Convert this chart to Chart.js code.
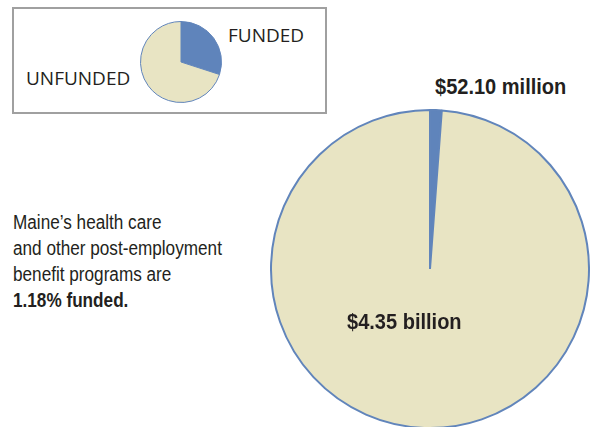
<!DOCTYPE html>
<html>
<head>
<meta charset="utf-8">
<script src="https://cdn.jsdelivr.net/npm/chart.js@4"></script>
<style>
  html, body { margin: 0; padding: 0; background: #fff; }
  body { width: 594px; height: 427px; position: relative; overflow: hidden; color: #231f20; }
  .abs { position: absolute; white-space: nowrap; }
  #legendBox { left: 12px; top: 7px; width: 311px; height: 103px; border: 2px solid #a0a0a0; }
  .legendText { font-family: "Open Sans", sans-serif; font-size: 19px; }
  #note { left: 13px; top: 209px; font-family: "Liberation Sans", sans-serif; font-size: 19.5px; line-height: 26px;
          transform: scaleX(0.88); transform-origin: left top; }
  .valueLabel { font-family: "Liberation Sans", sans-serif; font-weight: bold; font-size: 22px;
                transform: scaleX(0.91); transform-origin: left top; }
</style>
</head>
<body>
<div id="legendBox" class="abs"></div>
<div class="abs" style="left:140px; top:21px; width:82px; height:82px;"><canvas id="legendPie" width="82" height="82"></canvas></div>
<div id="lblFunded" class="abs legendText" style="left:228px; top:22px;"></div>
<div id="lblUnfunded" class="abs legendText" style="left:26px; top:65px;"></div>

<div id="note" class="abs">Maine’s health care<br>and other post-employment<br>benefit programs are<br><b id="pct"></b></div>

<div class="abs" style="left:270px; top:109px; width:320px; height:320px;"><canvas id="mainPie" width="320" height="320"></canvas></div>
<div id="valFunded" class="abs valueLabel" style="left:435px; top:74px;"></div>
<div id="valUnfunded" class="abs valueLabel" style="left:347px; top:309px;"></div>

<script>
// categories and values (millions of dollars)
const categories = ['FUNDED', 'UNFUNDED'];
const amounts = [52.10, 4350];
const amountLabels = ['$52.10 million', '$4.35 billion'];
// schematic legend pie shares
const legendShares = [30, 70];

const colors = ['#5f84bb', '#e8e4c3'];
const edge = '#6185bb';

const fundedPct = (amounts[0] / (amounts[0] + amounts[1]) * 100).toFixed(2);

document.getElementById('lblFunded').textContent = categories[0];
document.getElementById('lblUnfunded').textContent = categories[1];
document.getElementById('valFunded').textContent = amountLabels[0];
document.getElementById('valUnfunded').textContent = amountLabels[1];
document.getElementById('pct').textContent = fundedPct + '% funded.';

const common = {
  responsive: false,
  animation: false,
  layout: { padding: 0 },
  plugins: { legend: { display: false }, tooltip: { enabled: false } }
};

new Chart(document.getElementById('mainPie'), {
  type: 'pie',
  data: {
    labels: categories,
    datasets: [{ data: amounts, backgroundColor: colors, borderColor: edge, borderWidth: 2 }]
  },
  options: common
});

new Chart(document.getElementById('legendPie'), {
  type: 'pie',
  data: {
    labels: categories,
    datasets: [{ data: legendShares, backgroundColor: colors, borderColor: edge, borderWidth: 1 }]
  },
  options: common
});
</script>
</body>
</html>
